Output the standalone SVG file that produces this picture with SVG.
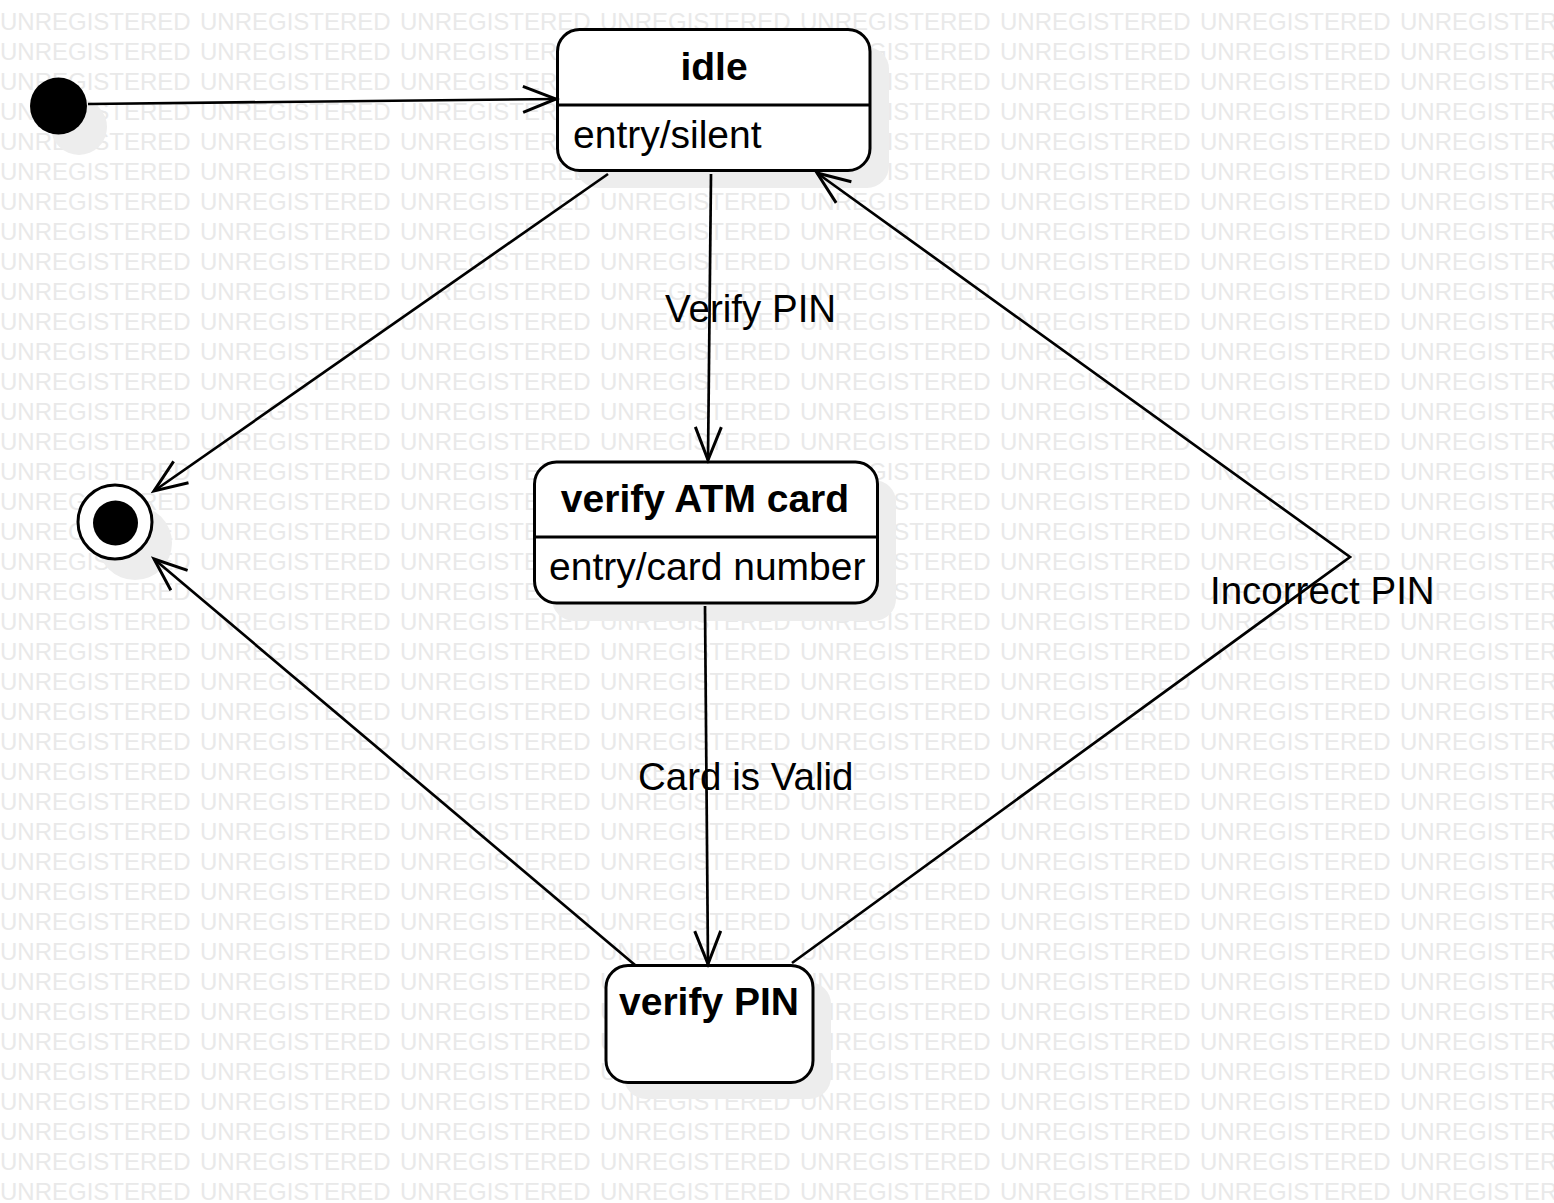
<svg xmlns="http://www.w3.org/2000/svg" xmlns:xlink="http://www.w3.org/1999/xlink" width="1554" height="1203" viewBox="0 0 1554 1203">
<style>
.wm{font-family:"Liberation Sans",Arial,sans-serif;font-size:24px;fill:#e9e9e9}
.box{fill:#fff;stroke:#000;stroke-width:3}
.sh{fill:#ededed}
.div{stroke:#000;stroke-width:3}
.title{font-family:"Liberation Sans",Arial,sans-serif;font-size:39px;font-weight:bold;text-anchor:middle;fill:#000}
.body{font-family:"Liberation Sans",Arial,sans-serif;font-size:39px;fill:#000}
.lbl{font-family:"Liberation Sans",Arial,sans-serif;font-size:38.5px;fill:#000}
.edge{fill:none;stroke:#000;stroke-width:2.7;marker-end:url(#open)}
</style>
<defs>
<marker id="open" markerUnits="userSpaceOnUse" markerWidth="40" markerHeight="40" viewBox="-36 -20 40 40" refX="0" refY="0" orient="auto">
<path d="M-33,-13 L0,0 L-33,13" fill="none" stroke="#000" stroke-width="3"/>
</marker>
<text id="wmrow" class="wm"><tspan x="0">UNREGISTERED</tspan><tspan x="200">UNREGISTERED</tspan><tspan x="400">UNREGISTERED</tspan><tspan x="600">UNREGISTERED</tspan><tspan x="800">UNREGISTERED</tspan><tspan x="1000">UNREGISTERED</tspan><tspan x="1200">UNREGISTERED</tspan><tspan x="1400">UNREGISTERED</tspan></text>
</defs>
<rect width="1554" height="1203" fill="#fff"/>
<g id="watermark">
<use xlink:href="#wmrow" y="30"/><use xlink:href="#wmrow" y="60"/><use xlink:href="#wmrow" y="90"/><use xlink:href="#wmrow" y="120"/><use xlink:href="#wmrow" y="150"/><use xlink:href="#wmrow" y="180"/><use xlink:href="#wmrow" y="210"/><use xlink:href="#wmrow" y="240"/><use xlink:href="#wmrow" y="270"/><use xlink:href="#wmrow" y="300"/>
<use xlink:href="#wmrow" y="330"/><use xlink:href="#wmrow" y="360"/><use xlink:href="#wmrow" y="390"/><use xlink:href="#wmrow" y="420"/><use xlink:href="#wmrow" y="450"/><use xlink:href="#wmrow" y="480"/><use xlink:href="#wmrow" y="510"/><use xlink:href="#wmrow" y="540"/><use xlink:href="#wmrow" y="570"/><use xlink:href="#wmrow" y="600"/>
<use xlink:href="#wmrow" y="630"/><use xlink:href="#wmrow" y="660"/><use xlink:href="#wmrow" y="690"/><use xlink:href="#wmrow" y="720"/><use xlink:href="#wmrow" y="750"/><use xlink:href="#wmrow" y="780"/><use xlink:href="#wmrow" y="810"/><use xlink:href="#wmrow" y="840"/><use xlink:href="#wmrow" y="870"/><use xlink:href="#wmrow" y="900"/>
<use xlink:href="#wmrow" y="930"/><use xlink:href="#wmrow" y="960"/><use xlink:href="#wmrow" y="990"/><use xlink:href="#wmrow" y="1020"/><use xlink:href="#wmrow" y="1050"/><use xlink:href="#wmrow" y="1080"/><use xlink:href="#wmrow" y="1110"/><use xlink:href="#wmrow" y="1140"/><use xlink:href="#wmrow" y="1170"/><use xlink:href="#wmrow" y="1200"/>
</g>
<g id="shadows">
<circle class="sh" cx="79" cy="127" r="28"/>
<rect class="sh" x="576" y="47" width="313" height="141" rx="22"/>
<rect class="sh" x="552" y="480" width="344" height="141" rx="22"/>
<rect class="sh" x="624" y="982" width="207" height="117" rx="22"/>
<circle class="sh" cx="135" cy="543" r="37"/>
</g>
<g id="initial">
<circle cx="58.5" cy="106" r="28.5" fill="#000"/>
</g>
<g id="idle">
<rect class="box" x="557.5" y="29.5" width="312.5" height="141" rx="22"/>
<line class="div" x1="557.5" y1="105" x2="870" y2="105"/>
<text class="title" x="714" y="80">idle</text>
<text class="body" x="573" y="148">entry/silent</text>
</g>
<g id="verify-atm-card">
<rect class="box" x="534.5" y="462" width="343" height="141" rx="22"/>
<line class="div" x1="534.5" y1="537" x2="877.5" y2="537"/>
<text class="title" x="705" y="512">verify ATM card</text>
<text class="body" x="549" y="580">entry/card number</text>
</g>
<g id="verify-pin">
<rect class="box" x="606" y="965.5" width="207" height="117" rx="22"/>
<text class="title" x="709" y="1015">verify PIN</text>
</g>
<g id="final">
<circle cx="115" cy="522" r="37" fill="#fff" stroke="#000" stroke-width="3"/>
<circle cx="115.5" cy="523" r="22.5" fill="#000"/>
</g>
<g id="connectors">
<line class="edge" x1="88" y1="104" x2="556" y2="99"/>
<line class="edge" x1="608" y1="174" x2="154" y2="491"/>
<line class="edge" x1="711" y1="174" x2="708" y2="460"/>
<line class="edge" x1="705" y1="606" x2="708" y2="964"/>
<line class="edge" x1="635" y1="965" x2="154" y2="559"/>
<polyline class="edge" points="792,963 1350,557 817,173"/>
</g>
<g id="labels">
<text class="lbl" x="665" y="322">Verify PIN</text>
<text class="lbl" x="638" y="790">Card is Valid</text>
<text class="lbl" x="1210" y="604">Incorrect PIN</text>
</g>
</svg>
